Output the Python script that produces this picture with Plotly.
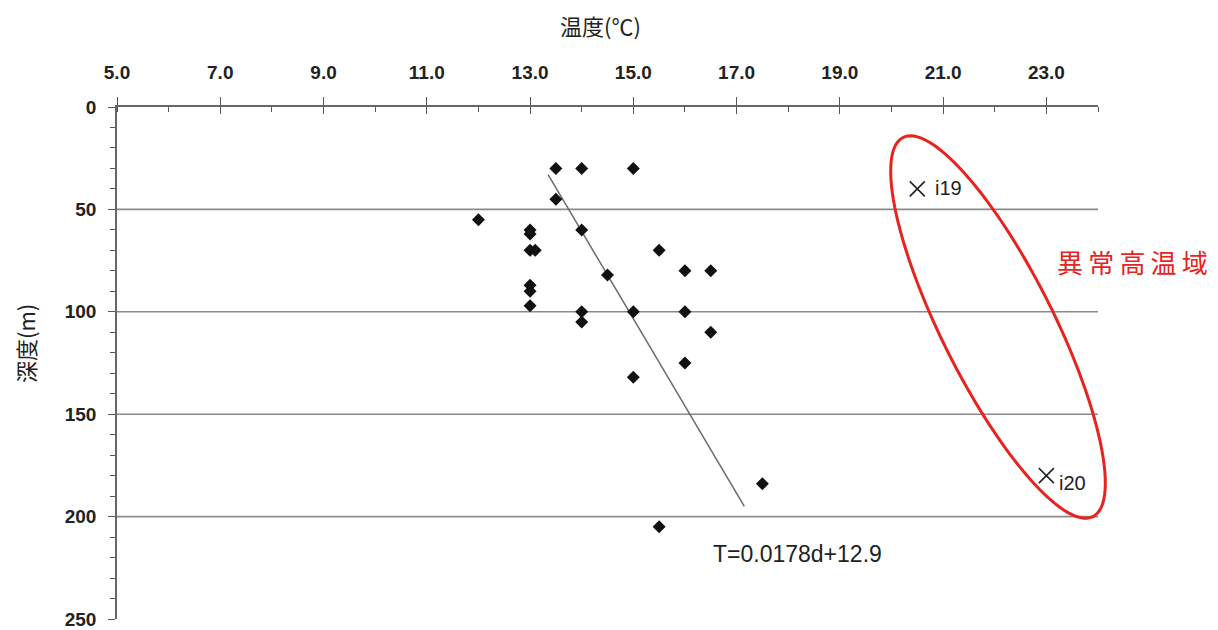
import numpy as np
import plotly.graph_objects as go

# ---- data ----
temps = [13.5, 14.0, 15.0, 13.5, 12.0, 13.0, 13.0, 13.0, 13.1, 14.0, 15.5, 16.0, 16.5,
         14.5, 13.0, 13.0, 13.0, 14.0, 14.0, 15.0, 16.0, 16.5, 16.0, 15.0, 17.5, 15.5]
depths = [30, 30, 30, 45, 55, 60, 62, 70, 70, 60, 70, 80, 80,
          82, 87, 90, 97, 100, 105, 100, 100, 110, 125, 132, 184, 205]
anom_T = [20.5, 23.0]
anom_d = [40, 180]
anom_labels = ["i19", "i20"]
fit_T = [13.35, 17.15]
fit_d = [33, 195]
grid_depths = [50, 100, 150, 200]
x_ticks = [5, 7, 9, 11, 13, 15, 17, 19, 21, 23]

X_RANGE = [5, 24]
Y_RANGE = [250, 0]
BODY = 8  # default page body margin
W, H = 1218 - BODY, 630 - BODY
ML, MR, MT, MB = 117 - BODY, 120, 107 - BODY, 11
PL, PT = 117, 107              # plot area top-left in page pixels
pw, ph = W - ML - MR, H - MT - MB


def pxp(x):
    return (x - PL) / pw


def pyp(y):
    return 1 - (y - PT) / ph


fig = go.Figure()

fig.add_trace(go.Scatter(x=fit_T, y=fit_d, mode="lines",
                         line=dict(color="#6a6a6a", width=1.5), showlegend=False))
fig.add_trace(go.Scatter(x=temps, y=depths, mode="markers",
                         marker=dict(symbol="diamond", size=10, color="#111111"),
                         showlegend=False))
fig.add_trace(go.Scatter(x=anom_T, y=anom_d, mode="markers",
                         marker=dict(symbol="x-thin-open", size=15, color="#222222",
                                     line=dict(color="#222222", width=1.6)),
                         showlegend=False, cliponaxis=False))
# overlay axis for crossing major ticks
fig.add_trace(go.Scatter(x=[None], y=[None], xaxis="x2", showlegend=False))

for gd in grid_depths:
    fig.add_shape(type="line", xref="paper", x0=0, x1=1, yref="y", y0=gd, y1=gd,
                  line=dict(color="#8a8a8a", width=1.6), layer="below")

# ellipse (page pixels -> paper)
cx, cy, a, b = 998, 327, 212, 56
th = np.deg2rad(63.4)
t = np.linspace(0, 2 * np.pi, 120)
ex = cx + a * np.cos(t) * np.cos(th) - b * np.sin(t) * np.sin(th)
ey = cy + a * np.cos(t) * np.sin(th) + b * np.sin(t) * np.cos(th)
path = "M " + " L ".join(f"{pxp(x):.5f},{pyp(y):.5f}" for x, y in zip(ex, ey)) + " Z"
fig.add_shape(type="path", xref="paper", yref="paper", path=path,
              line=dict(color="#e8231f", width=3))

lab_font = dict(family="Liberation Sans, Arial", size=20, color="#222222")
fig.add_annotation(x=anom_T[0], y=anom_d[0], text=anom_labels[0], showarrow=False,
                   xanchor="left", yanchor="middle", xshift=16, yshift=1, font=lab_font)
fig.add_annotation(x=anom_T[1], y=anom_d[1], text=anom_labels[1], showarrow=False,
                   xanchor="left", yanchor="middle", xshift=11, yshift=-7, font=lab_font)
fig.add_annotation(xref="paper", yref="paper", x=pxp(797), y=pyp(554),
                   xanchor="center", yanchor="middle",
                   text="T=0.0178d+12.9", showarrow=False,
                   font=dict(family="Liberation Sans, Arial", size=23, color="#222222"))
fig.add_annotation(xref="paper", yref="paper", x=pxp(1132), y=pyp(261),
                   xanchor="center", yanchor="middle",
                   text="異\u2009常\u2009高\u2009温\u2009域", showarrow=False,
                   font=dict(family="Noto Sans CJK JP", size=26, color="#e8231f"))
fig.add_annotation(xref="paper", yref="paper", x=pxp(600), y=pyp(25),
                   xanchor="center", yanchor="middle",
                   text="温度(℃)", showarrow=False,
                   font=dict(family="Noto Sans CJK JP", size=22, color="#222222"))
fig.add_annotation(xref="paper", yref="paper", x=pxp(25), y=pyp(344),
                   xanchor="center", yanchor="middle",
                   text="深度(m)", showarrow=False, textangle=-90,
                   font=dict(family="Noto Sans CJK JP", size=22, color="#222222"))

tick_font = dict(family="Liberation Sans, Arial", size=19, color="#222222", weight="bold")

fig.update_layout(
    width=W, height=H,
    margin=dict(l=ML, r=MR, t=MT, b=MB, autoexpand=False),
    plot_bgcolor="white", paper_bgcolor="white",
    xaxis=dict(range=X_RANGE, side="top", tickmode="array", tickvals=x_ticks,
               ticktext=[f"{v:.1f}" for v in x_ticks], automargin=False,
               ticks="outside", ticklen=8, tickwidth=1.3, tickcolor="#555555",
               showline=True, linecolor="#666666", linewidth=1.6,
               showgrid=False, zeroline=False, tickfont=tick_font,
               ticklabelstandoff=11,
               minor=dict(tick0=5, dtick=1, ticks="inside", ticklen=5,
                          tickcolor="#555555", tickwidth=1.2, showgrid=False)),
    xaxis2=dict(range=X_RANGE, overlaying="x", side="top", tick0=5, dtick=2,
                ticks="inside", ticklen=7, tickwidth=1.3, tickcolor="#555555",
                automargin=False,
                showticklabels=False, showgrid=False, showline=False, zeroline=False),
    yaxis=dict(range=Y_RANGE, tick0=0, dtick=50, ticks="outside", ticklen=7,
               tickwidth=1.3, tickcolor="#555555", automargin=False,
               showline=True, linecolor="#666666", linewidth=1.6,
               showgrid=False, zeroline=False, tickfont=tick_font,
               ticklabelstandoff=8,
               minor=dict(tick0=0, dtick=10, ticks="outside", ticklen=5,
                          tickcolor="#555555", tickwidth=1.2, showgrid=False)),
)

fig.write_html("out.html")
